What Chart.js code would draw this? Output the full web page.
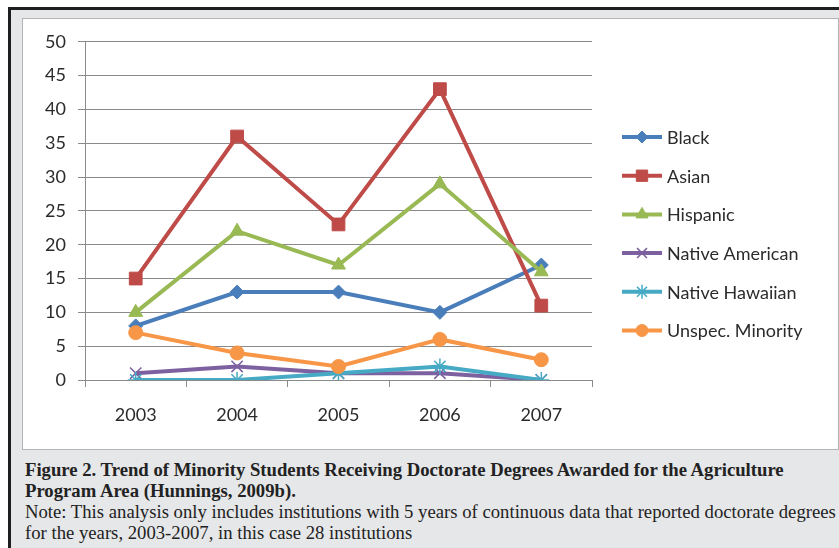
<!DOCTYPE html>
<html>
<head>
<meta charset="utf-8">
<script src="https://cdn.jsdelivr.net/npm/chart.js@4.4.1/dist/chart.umd.min.js"></script>
<style>
  html, body { margin: 0; padding: 0; background: #ffffff; }
  body { width: 839px; height: 548px; position: relative; overflow: hidden; }
  #frame {
    position: absolute; left: 8px; top: 7px; width: 840px; height: 560px;
    background: #e6e7e9; border-top: 3px solid #1e1e1e; border-left: 3px solid #1e1e1e;
  }
  #plotbox {
    position: absolute; left: 22px; top: 18px; width: 815px; height: 430px;
    background: #ffffff; border: 1px solid #b4b4b4;
  }
  #plotbox canvas { display: block; }
  #caption {
    position: absolute; left: 25px; top: 458.5px; width: 830px;
    font-family: "Liberation Serif", "Times New Roman", serif; font-size: 18.7px;
    line-height: 21px; color: #222222; white-space: nowrap;
  }
  #caption b { font-weight: bold; }
</style>
</head>
<body>
<div id="frame"></div>
<div id="plotbox"><canvas id="chart" width="815" height="430"></canvas></div>
<div id="caption">
  <b>Figure 2. Trend of Minority Students Receiving Doctorate Degrees Awarded for the Agriculture<br>Program Area (Hunnings, 2009b).</b><br>
  Note: This analysis only includes institutions with 5 years of continuous data that reported doctorate degrees<br>for the years, 2003-2007, in this case 28 institutions
</div>
<script>
// Doctorate degrees awarded to minority students, agriculture program area
const years = ["2003", "2004", "2005", "2006", "2007"];
const black = [8, 13, 13, 10, 17];
const asian = [15, 36, 23, 43, 11];
const hispanic = [10, 22, 17, 29, 16];
const nativeAmerican = [1, 2, 1, 1, 0];
const nativeHawaiian = [0, 0, 1, 2, 0];
const unspecMinority = [7, 4, 2, 6, 3];
const yTicks = [0, 5, 10, 15, 20, 25, 30, 35, 40, 45, 50];

const FONT = "Lato, 'Open Sans', sans-serif";
const TEXT = "#2b2b2b";
const GRID = "#8a8a8a";

function series(label, data, color, style, radius, filled, idx) {
  return {
    label, data,
    borderColor: color,
    backgroundColor: color,
    borderWidth: 4,
    pointStyle: style,
    pointRadius: radius,
    pointHoverRadius: radius,
    pointBackgroundColor: filled ? color : "rgba(0,0,0,0)",
    pointBorderColor: color,
    pointBorderWidth: filled ? 1 : 1.5,
    tension: 0,
    order: 6 - idx,          // later series are painted over earlier ones
    legendRadius: radius - 1
  };
}

const datasets = [
  series("Black", black, "#4a7ebb", "rectRot", 7, true, 0),
  series("Asian", asian, "#be4b48", "rect", 9, true, 1),
  series("Hispanic", hispanic, "#98b954", "triangle", 8, true, 2),
  series("Native American", nativeAmerican, "#7d60a0", "crossRot", 8, false, 3),
  series("Native Hawaiian", nativeHawaiian, "#46aac5", "star", 8, false, 4),
  series("Unspec. Minority", unspecMinority, "#f79646", "circle", 7, true, 5)
];

// Legend on the right: line sample with marker, then label
const sideLegend = {
  id: "sideLegend",
  afterDraw(chart) {
    const ctx = chart.ctx;
    const area = chart.chartArea;
    const x0 = area.right + 30;
    const y0 = 118;
    const step = 38.7;
    ctx.save();
    chart.data.datasets.forEach((ds, i) => {
      const y = y0 + i * step;
      ctx.strokeStyle = ds.borderColor;
      ctx.lineWidth = 4;
      ctx.beginPath();
      ctx.moveTo(x0, y);
      ctx.lineTo(x0 + 40, y);
      ctx.stroke();
      ctx.fillStyle = ds.pointBackgroundColor;
      ctx.strokeStyle = ds.pointBorderColor;
      ctx.lineWidth = ds.pointBorderWidth;
      Chart.helpers.drawPoint(ctx, {
        pointStyle: ds.pointStyle, rotation: 0,
        radius: ds.legendRadius, borderWidth: ds.pointBorderWidth
      }, x0 + 20, y);
      ctx.fillStyle = TEXT;
      ctx.font = "18px " + FONT;
      ctx.textAlign = "left";
      ctx.textBaseline = "middle";
      ctx.fillText(ds.label, x0 + 45, y + 1);
    });
    ctx.restore();
  }
};

new Chart(document.getElementById("chart"), {
  type: "line",
  data: { labels: years, datasets },
  options: {
    responsive: false,
    animation: false,
    events: [],
    layout: { padding: { left: 0, top: 13, right: 246, bottom: 0 } },
    plugins: { legend: { display: false }, tooltip: { enabled: false } },
    scales: {
      x: {
        offset: true,
        grid: { offset: true, drawOnChartArea: false, drawTicks: true, tickLength: 7, color: GRID },
        border: { color: GRID, width: 1 },
        ticks: { color: TEXT, font: { family: FONT, size: 18 }, padding: 17 },
        afterFit(scale) { scale.height = 69; }
      },
      y: {
        min: 0, max: 50,
        afterBuildTicks(scale) { scale.ticks = yTicks.map(v => ({ value: v })); },
        grid: { color: GRID, tickLength: 7 },
        border: { color: GRID, width: 1 },
        ticks: { color: TEXT, font: { family: FONT, size: 18 }, padding: 12 },
        afterFit(scale) { scale.width = 62; }
      }
    }
  },
  plugins: [sideLegend]
});
</script>
</body>
</html>
